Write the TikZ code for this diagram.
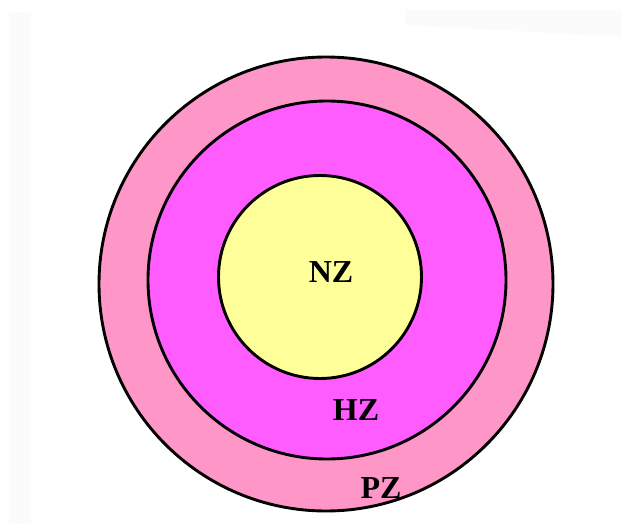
\documentclass[tikz,border=0pt]{standalone}
\usepackage{fontspec}
\setmainfont{Liberation Serif}
\usetikzlibrary{positioning}
\definecolor{pzpink}{HTML}{FF96C8}
\definecolor{hzmagenta}{HTML}{FF5CFF}
\definecolor{nzyellow}{HTML}{FFFF99}

\begin{document}
\begin{tikzpicture}[
  x=1pt,y=-1pt,
  zone/.style={circle,draw=black,line width=2.9pt,inner sep=0pt},
  lbl/.style={font=\fontsize{32}{32}\selectfont\bfseries,inner sep=0pt}
]
\useasboundingbox (0,0) rectangle (621,524);
% faint scan marks
\fill[black!1.5] (405,10) -- (621,10) -- (621,37) -- (405,25) -- cycle;
\fill[black!1.5] (9,12) rectangle (31,524);
% zones, outermost first
\node[zone,fill=pzpink,minimum size=454pt] (pzring) at (326,284) {};
\node[zone,fill=hzmagenta,minimum size=358pt] (hzring) at (327,280) {};
\node[zone,fill=nzyellow,minimum size=203pt] (nzring) at (320,277) {};
\node[lbl] (nz) at (331,272) {NZ};
\node[lbl] (hz) at (356,410) {HZ};
\node[lbl] (pz) at (381,488) {PZ};
\end{tikzpicture}
\end{document}
